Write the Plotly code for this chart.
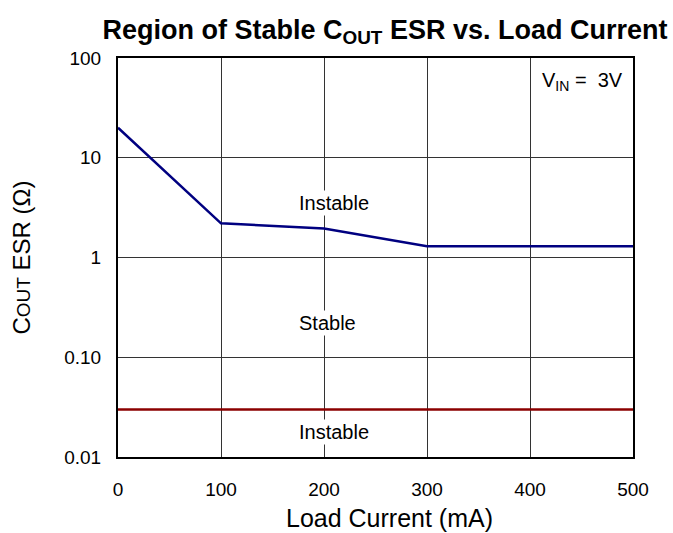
import math
import plotly.graph_objects as go

# Data
load_current_ma = [0, 100, 200, 300, 500]
esr_upper_ohm = [20, 2.2, 1.95, 1.3, 1.3]
esr_lower_x = [0, 500]
esr_lower_ohm = [0.03, 0.03]

y_tickvals = [0.01, 0.1, 1, 10, 100]
y_ticktext = ["0.01", "0.10", "1", "10", "100"]
x_tickvals = [0, 100, 200, 300, 400, 500]

region_labels = ["Instable", "Stable", "Instable"]
region_x = [210, 203, 210]
region_y = [3.5, 0.22, 0.018]

FONT = "Liberation Sans, Arial, sans-serif"

fig = go.Figure()
fig.add_trace(go.Scatter(x=load_current_ma, y=esr_upper_ohm, mode="lines",
                         line=dict(color="#000080", width=2.5), showlegend=False))
fig.add_trace(go.Scatter(x=esr_lower_x, y=esr_lower_ohm, mode="lines",
                         line=dict(color="#8B0000", width=2.5), showlegend=False))

for t, x, y in zip(region_labels, region_x, region_y):
    fig.add_annotation(x=x, y=math.log10(y), yref="y", xref="x", text=t, showarrow=False,
                       font=dict(family=FONT, size=20, color="black"),
                       bgcolor="white", borderpad=1)

fig.add_annotation(x=0.985, y=0.94, xref="paper", yref="paper",
                   text="V<sub>IN</sub> =  3V", showarrow=False,
                   xanchor="right", yanchor="middle",
                   font=dict(family=FONT, size=20, color="black"))

# x-axis title placed as annotation (slightly right of centre as in the reference)
fig.add_annotation(x=389 / 673, y=1 - 518 / 533, xref="paper", yref="paper",
                   text="Load Current (mA)", showarrow=False,
                   xanchor="center", yanchor="middle", yshift=0,
                   font=dict(family=FONT, size=25, color="black"))

fig.update_layout(
    width=673, height=533,
    margin=dict(l=118, r=40, t=58, b=76, autoexpand=False),
    paper_bgcolor="white", plot_bgcolor="white",
    font=dict(family=FONT, color="black"),
    title=dict(text="<b>Region of Stable C<sub>OUT</sub> ESR vs. Load Current</b>",
               x=0.572, xref="container", xanchor="center",
               y=0.945, yref="container", yanchor="middle",
               font=dict(family=FONT, size=27, color="black")),
)
# convert the x-title annotation to container coordinates
fig.layout.annotations[-1].update(xref="paper", yref="paper",
                                  x=(389 - 118) / (633 - 118),
                                  y=-(518 - 457) / (457 - 58))
fig.update_xaxes(range=[0, 500], tickvals=x_tickvals, showgrid=True,
                 gridcolor="#333333", gridwidth=1, showline=True, linecolor="black",
                 linewidth=2, mirror=True, ticks="", zeroline=False,
                 tickfont=dict(family=FONT, size=19), ticklabelstandoff=14)
fig.update_yaxes(type="log", range=[-2, 2], tickvals=y_tickvals, ticktext=y_ticktext,
                 showgrid=True, gridcolor="#333333", gridwidth=1, showline=True,
                 linecolor="black", linewidth=2, mirror=True, ticks="", zeroline=False,
                 tickfont=dict(family=FONT, size=19), ticklabelstandoff=11,
                 title=dict(text="C<span style='font-size:19px'>OUT</span> ESR (Ω)",
                            font=dict(family=FONT, size=24), standoff=27))

fig.write_html("out.html", config={"displayModeBar": False},
               post_script="document.body.style.margin='0';document.body.style.overflow='hidden';")
